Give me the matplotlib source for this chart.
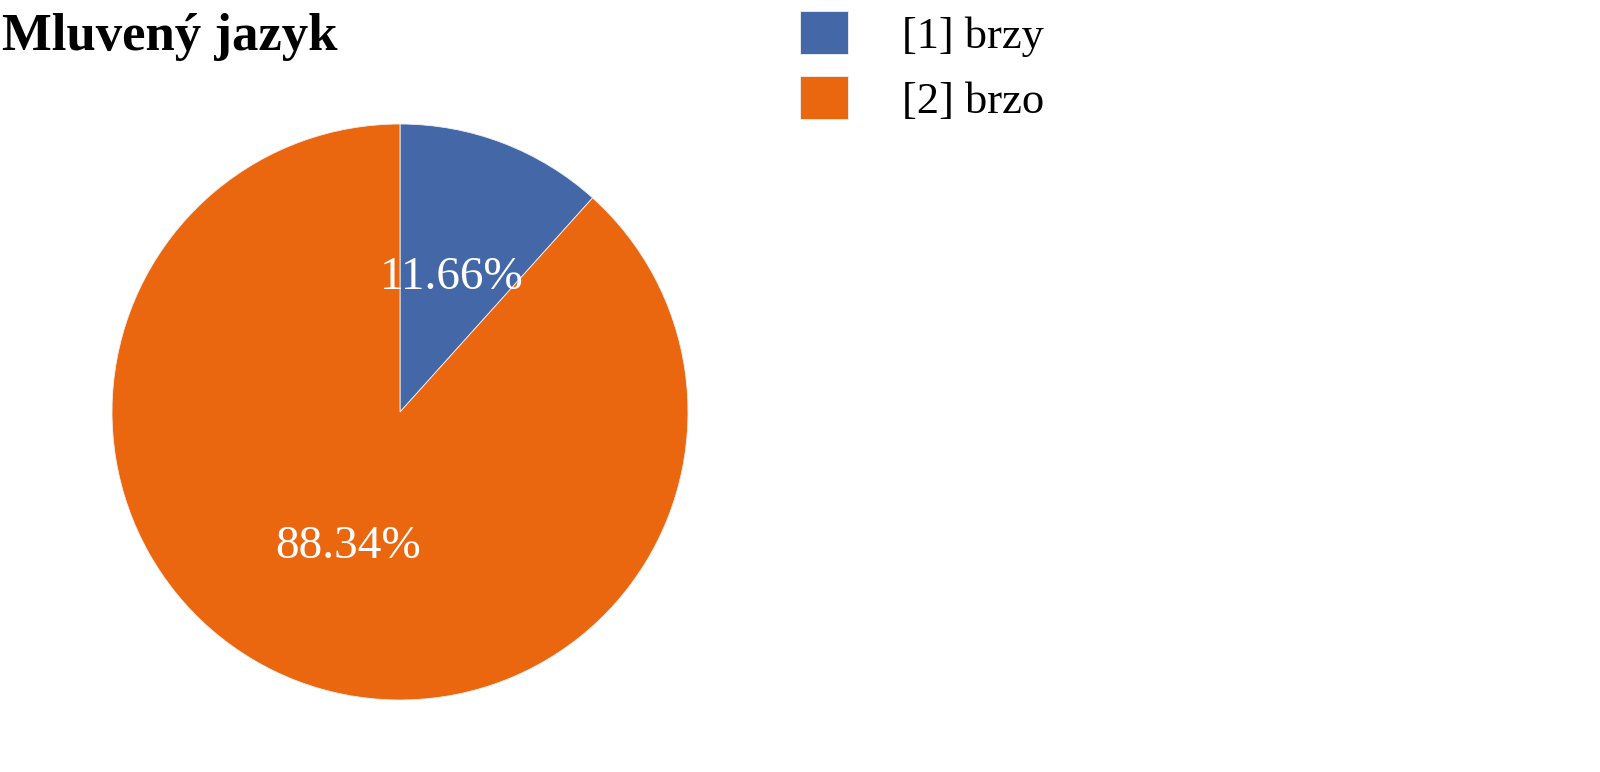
import matplotlib
matplotlib.use("Agg")
import matplotlib.pyplot as plt

title = "Mluvený jazyk"
categories = ["[1] brzy", "[2] brzo"]
values = [11.66, 88.34]
colors = ["#4468A7", "#EB670F"]

plt.rcParams['font.family'] = ['Liberation Serif', 'DejaVu Serif']

W, H = 1600, 772
fig = plt.figure(figsize=(W / 100, H / 100), dpi=100)

cx, cy, r = 400, 412, 288
ax = fig.add_axes([(cx - r) / W, (H - cy - r) / H, 2 * r / W, 2 * r / H])
wedges, texts, autotexts = ax.pie(
    values, colors=colors, startangle=90, counterclock=False,
    autopct=lambda p: f"{p:.2f}%", pctdistance=0.5,
    wedgeprops=dict(linewidth=0.6, edgecolor="#f0f0f0"),
    textprops=dict(color="white", fontsize=34))
ax.set_xlim(-1, 1)
ax.set_ylim(-1, 1)
ax.set_aspect("equal")
ax.axis("off")

fig.text(2 / W, 1 - 50 / H, title, fontsize=38, fontweight="bold",
         ha="left", va="baseline")

fs = 32
fpx = fs * 100 / 72
leg = fig.legend(wedges, categories, loc="upper left",
                 bbox_to_anchor=(800 / W, 1 - 11 / H), frameon=False,
                 fontsize=fs, handlelength=48 / fpx, handleheight=50 / fpx,
                 handletextpad=54 / fpx, labelspacing=0.43, borderpad=0,
                 borderaxespad=0)

fig.savefig("out.png", dpi=100, facecolor="white")
